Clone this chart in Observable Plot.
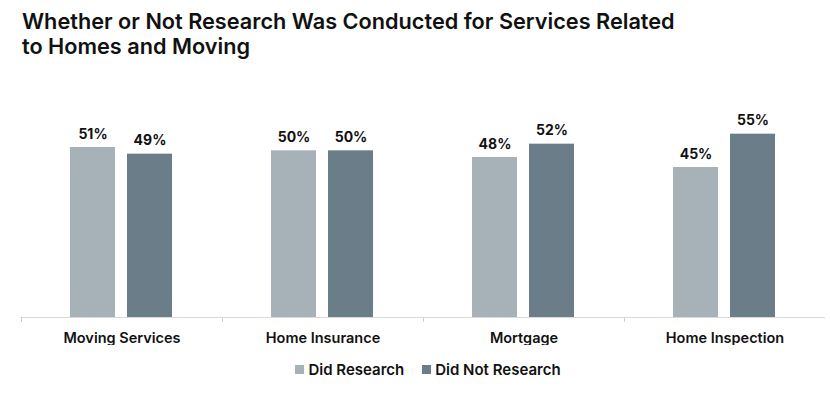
<!DOCTYPE html>
<html>
<head>
<meta charset="utf-8">
<script src="https://cdn.jsdelivr.net/npm/d3@7"></script>
<script src="https://cdn.jsdelivr.net/npm/@observablehq/plot@0.6"></script>
<style>
  html, body { margin: 0; padding: 0; background: #fff; }
  #wrap { position: relative; width: 830px; height: 395px; font-family: Inter, "Open Sans", sans-serif; }
  #title { position: absolute; left: 22px; top: 9px; font-size: 21.7px; line-height: 25px; font-weight: 600; color: #111; letter-spacing: 0; }
  #chart { position: absolute; left: 0; top: 0; }
  #legend { position: absolute; left: 13px; top: 353px; width: 830px; }
  #legend [class$="-swatch"] { margin-left: 9px !important; margin-right: 9px !important; }
  #legend [class$="-swatch"] > svg { margin-right: 4px !important; }
</style>
</head>
<body>
<div id="wrap">
  <div id="chart"></div>
  <div id="title">Whether or Not Research Was Conducted for Services Related<br>to Homes and Moving</div>
  <div id="legend"></div>
</div>
<script>
const categories = ["Moving Services", "Home Insurance", "Mortgage", "Home Inspection"];
const seriesNames = ["Did Research", "Did Not Research"];
const didResearch = [51, 50, 48, 45];
const didNotResearch = [49, 50, 52, 55];
const seriesColors = ["#a6b1b8", "#6b7d88"];

const rows = [];
categories.forEach((c, i) => {
  rows.push({category: c, series: seriesNames[0], value: didResearch[i]});
  rows.push({category: c, series: seriesNames[1], value: didNotResearch[i]});
});

const chart = Plot.plot({
  width: 830,
  height: 345,
  marginLeft: 21,
  marginRight: 5,
  marginTop: 117,
  marginBottom: 28,
  style: {fontFamily: "Inter, 'Open Sans', sans-serif", background: "transparent"},
  fx: {domain: categories, padding: 0, label: null, axis: null},
  x: {domain: seriesNames, paddingInner: 0.2105, paddingOuter: 0.868, axis: null},
  y: {domain: [0, 60], axis: null},
  color: {domain: seriesNames, range: seriesColors},
  marks: [
    Plot.barY(rows, {fx: "category", x: "series", y: "value", fill: "series"}),
    Plot.text(rows, {fx: "category", x: "series", y: "value", text: d => d.value + "%",
      dy: -9, lineAnchor: "bottom", fontWeight: 700, fontSize: 14, fill: "#111"}),
    Plot.ruleY([0], {stroke: "#d9d9d9", strokeWidth: 1.2}),
    Plot.frame({anchor: "left", stroke: "#cfcfcf", insetTop: 200, insetBottom: -4}),
    Plot.axisFx({anchor: "bottom", tickSize: 0, tickPadding: 15, fontSize: 14.5, fontWeight: 600, fill: "#111", label: null})
  ]
});
document.getElementById("chart").appendChild(chart);

const leg = Plot.legend({
  color: {domain: seriesNames, range: seriesColors},
  legend: "swatches",
  swatchSize: 9,
  style: {fontFamily: "Inter, 'Open Sans', sans-serif", fontSize: "15px", fontWeight: 600, color: "#111"}
});
leg.style.justifyContent = "center";
leg.style.marginLeft = "0";
document.getElementById("legend").appendChild(leg);
</script>
</body>
</html>
